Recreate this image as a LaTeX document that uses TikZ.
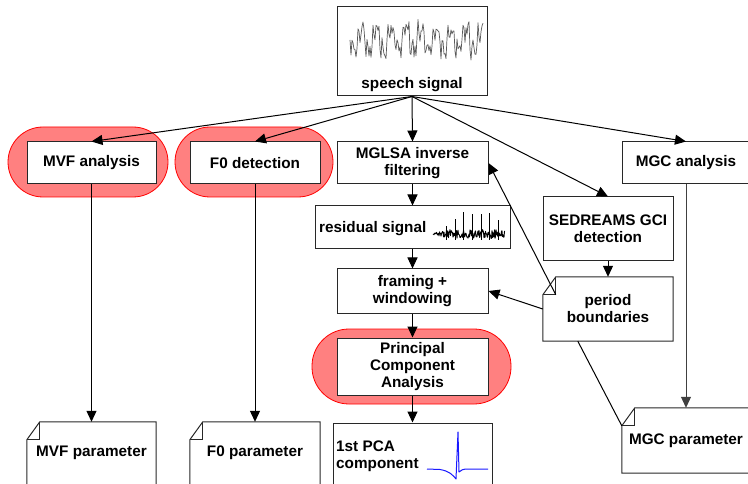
\documentclass[tikz,border=0pt]{standalone}
\usepackage{fontspec}
\setmainfont{Liberation Sans}
\usetikzlibrary{arrows.meta,calc}
\definecolor{pillfill}{RGB}{255,128,128}
\definecolor{pillline}{RGB}{255,0,0}
\definecolor{pcablue}{RGB}{25,25,255}
\definecolor{edge}{RGB}{40,40,40}

% document shape with a folded top-left corner (13 x 18)
\newcommand{\docframe}[1]{%
  \draw[docline] ($(#1.north west)+(0,18)$) -- ($(#1.north west)+(13,0)$) -- (#1.north east)
    -- (#1.south east) -- (#1.south west) -- cycle;
  \draw[docline] ($(#1.north west)+(13,0)$) -- ($(#1.north west)+(13,18)$) -- ($(#1.north west)+(0,18)$);
}

\begin{document}
\begin{tikzpicture}[x=1pt,y=-1pt,
  every node/.style={font=\fontsize{15.3}{17}\selectfont\bfseries, align=center, inner sep=0pt},
  box/.style={draw=edge, line width=1pt, fill=white, rectangle},
  pill/.style={draw=pillline, line width=0.8pt, fill=pillfill, rectangle},
  docnode/.style={rectangle, draw=none},
  docline/.style={draw=edge, line width=1pt},
  arr/.style={-{Triangle[length=11pt,width=10pt]}, line width=1pt, draw=black},
  link/.style={line width=1pt, draw=black},
  wave/.style={black!65, line width=0.7pt, line join=round}
]
\useasboundingbox (0,0) rectangle (748,484);
\clip (0,0) rectangle (748,484);

% highlighted stages
\node[pill, rounded corners=35pt, minimum width=160, minimum height=70] (mvfpill) at (88,162) {};
\node[pill, rounded corners=35pt, minimum width=158, minimum height=70] (f0pill) at (254,162) {};
\node[pill, rounded corners=37pt, minimum width=199, minimum height=75] (pcapill) at (411.5,366.5) {};

% speech signal
\node[box, minimum width=150, minimum height=89] (speech) at (412,51.5) {};
\pgfmathsetseed{11}
\draw[wave] (350,40) \foreach \i in {1,...,133}{
  -- ({350+\i},{40 + 12*sin(24*\i) + 8*sin(72*\i+50) + 5*sin(120*\i+20) + 6*rand}) };
\node (speechlbl) at (412,85) {speech signal};

% processing boxes
\node[box, minimum width=129, minimum height=42] (mvf) at (91.5,163) {MVF analysis};
\node[box, minimum width=130, minimum height=42] (f0) at (255,163) {F0 detection};
\node[box, minimum width=151, minimum height=42] (mglsa) at (412.5,163) {MGLSA inverse\\filtering};
\node[box, minimum width=128, minimum height=42] (mgc) at (686,163) {MGC analysis};
\node[box, minimum width=195, minimum height=43] (resid) at (412.5,227.5) {};
\node[anchor=west] (residlbl) at (319,229) {residual signal};
\node[box, minimum width=130, minimum height=64] (sed) at (608,229) {SEDREAMS GCI\\detection};
\node[box, minimum width=151, minimum height=44] (frame) at (412.5,291) {framing +\\windowing};
\node[box, minimum width=151, minimum height=57] (pca) at (412.5,366.5) {Principal\\Component\\Analysis};

% residual waveform
\pgfmathsetseed{3}
\draw[black, line width=0.9pt, line join=round] (433,234) \foreach \i in {1,...,144}{
  -- ({433+\i/2},{234 + (0.8+3.6*min(\i,30)/30)*rand}) };
\foreach \sx/\sy in {446/226, 455/219, 463/212, 472/214, 481/214, 489/213, 498/220}
  \draw[black, line width=0.8pt] (\sx,240) -- (\sx,\sy);

% documents
\node[docnode, minimum width=130, minimum height=64] (period) at (608,309) {period\\boundaries};
\docframe{period}
\node[docnode, minimum width=129, minimum height=100] (mvfpar) at (91.5,472) {};
\docframe{mvfpar}
\node (mvfparlbl) at (91.5,453) {MVF parameter};
\node[docnode, minimum width=130, minimum height=100] (f0par) at (255,472) {};
\docframe{f0par}
\node (f0parlbl) at (255,453) {F0 parameter};
\node[docnode, minimum width=128, minimum height=65] (mgcpar) at (686,440.5) {MGC parameter};
\docframe{mgcpar}

% first principal component
\node[box, minimum width=159, minimum height=100] (pcacomp) at (412.5,473) {};
\node[anchor=west, align=left] (pcacomplbl) at (336,456) {1st PCA\\component};
\draw[pcablue, line width=1pt, line join=round] (427,469) -- (440,469.5)
  .. controls (449,471) and (453,475) .. (456,479) -- (458,432) -- (459,472)
  .. controls (461,470) and (463,469) .. (468,469) -- (488,469);

% connectors
\coordinate (periodfold) at ($(period.north west)+(13,18)$);
\coordinate (periodfoot) at ($(period.south west)+(35,0)$);
\coordinate (mgcfold) at ($(mgcpar.north west)+(0,18)$);

\draw[arr] (speech.south) -- (mvf.north);
\draw[arr] (speech.south) -- (f0.north);
\draw[arr] (speech.south) -- (mglsa.north);
\draw[arr] (speech.south) -- (sed.north);
\draw[arr] (speech.south) -- (mgc.north);
\draw[arr] (mglsa.south) -- (resid.north);
\draw[arr] (resid.south) -- (frame.north);
\draw[arr] (frame.south) -- (pca.north);
\draw[arr] (pca.south) -- (pcacomp.north);
\draw[arr] (sed.south) -- (period.north);
\draw[arr] (period.west) -- (frame.east);
\draw[arr] (periodfold) -- (mglsa.east);
\draw[link] (periodfoot) -- (mgcfold);
\draw[arr] (mvf.south) -- (mvfpar.north);
\draw[arr] (f0.south) -- (f0par.north);
\draw[arr, draw=black!75] (mgc.south) -- (mgcpar.north);
\end{tikzpicture}
\end{document}
